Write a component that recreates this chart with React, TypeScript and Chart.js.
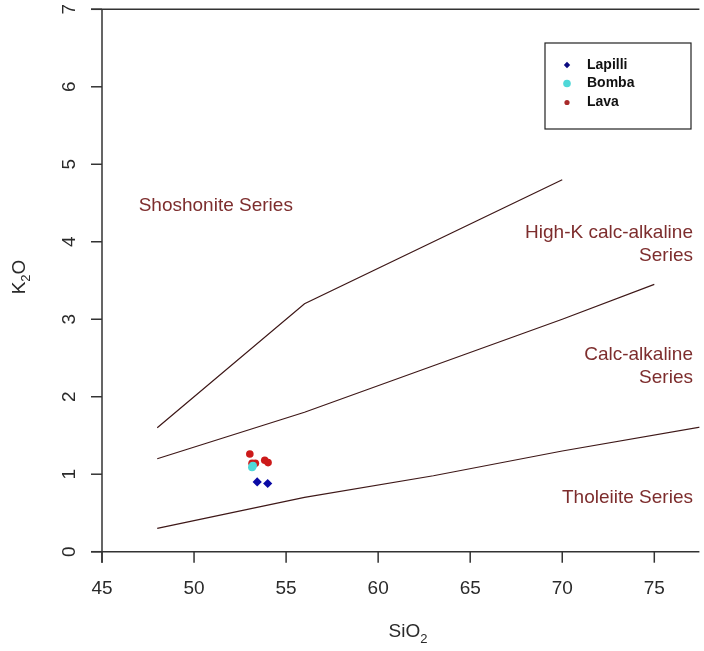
import React, { useEffect, useRef } from "react";
import { Chart, registerables } from "chart.js";

Chart.register(...registerables);

// Axis ranges and ticks
const xRange = [45, 77.45];
const yRange = [0, 7];
const xTicks = [45, 50, 55, 60, 65, 70, 75];
const yTicks = [0, 1, 2, 3, 4, 5, 6, 7];

// Series boundaries (Peccerillo & Taylor style)
const shoshoniteX = [48, 56, 70];
const shoshoniteY = [1.6, 3.2, 4.8];
const highKX = [48, 56, 63, 70, 75];
const highKY = [1.2, 1.8, 2.4, 3.0, 3.45];
const tholeiiteX = [48, 56, 63, 70, 78];
const tholeiiteY = [0.3, 0.7, 0.98, 1.3, 1.63];

// Samples
const lapilliSiO2 = [53.43, 54.0];
const lapilliK2O = [0.9, 0.88];
const bombaSiO2 = [53.15, 53.2];
const bombaK2O = [1.09, 1.11];
const lavaSiO2 = [53.03, 53.15, 53.33, 53.84, 54.02];
const lavaK2O = [1.26, 1.14, 1.14, 1.18, 1.15];

// Region labels
const regionLabels = [
  { lines: ["Shoshonite Series"], x: 51.18, y: 4.47, align: "center" },
  { lines: ["High-K calc-alkaline", "Series"], x: 77.1, y: 4.12, align: "right" },
  { lines: ["Calc-alkaline", "Series"], x: 77.1, y: 2.54, align: "right" },
  { lines: ["Tholeiite Series"], x: 77.1, y: 0.69, align: "right" },
];

const zip = (xs: number[], ys: number[]) => xs.map((x, i) => ({ x, y: ys[i] }));

const LINE_COLOR = "#3e1818";
const TEXT_RED = "#7d2d2d";
const AXIS = "#333333";
const FONT = "'Liberation Sans', Arial, sans-serif";

const rPlugin = {
  id: "rStyle",
  afterDraw(chart: any) {
    const ctx = chart.ctx as CanvasRenderingContext2D;
    const xs = chart.scales.x;
    const ys = chart.scales.y;
    const left = chart.chartArea.left;
    const right = chart.chartArea.right;
    const top = chart.chartArea.top;
    const bottom = chart.chartArea.bottom;
    const tick = 11;
    ctx.save();
    ctx.strokeStyle = AXIS;
    ctx.lineWidth = 1.5;
    // axes
    ctx.beginPath();
    ctx.moveTo(left, top);
    ctx.lineTo(left, bottom + tick);
    ctx.moveTo(left - tick, bottom);
    ctx.lineTo(right, bottom);
    ctx.moveTo(left - tick, top);
    ctx.lineTo(right, top);
    ctx.stroke();
    // x ticks
    ctx.fillStyle = "#2a2a2a";
    ctx.font = `19px ${FONT}`;
    ctx.textAlign = "center";
    ctx.textBaseline = "middle";
    xTicks.forEach((v) => {
      const px = xs.getPixelForValue(v);
      ctx.beginPath();
      ctx.moveTo(px, bottom);
      ctx.lineTo(px, bottom + tick);
      ctx.stroke();
      ctx.fillText(String(v), px, 589);
    });
    // y ticks
    yTicks.forEach((v) => {
      const py = ys.getPixelForValue(v);
      ctx.beginPath();
      ctx.moveTo(left - tick, py);
      ctx.lineTo(left, py);
      ctx.stroke();
      ctx.save();
      ctx.translate(70, py);
      ctx.rotate(-Math.PI / 2);
      ctx.fillText(String(v), 0, 0);
      ctx.restore();
    });
    // x title SiO2
    {
      const big = `19px ${FONT}`;
      const small = `13px ${FONT}`;
      ctx.font = big;
      const w1 = ctx.measureText("SiO").width;
      ctx.font = small;
      const w2 = ctx.measureText("2").width;
      const cx = 408;
      const sx = cx - (w1 + w2) / 2;
      ctx.textAlign = "left";
      ctx.font = big;
      ctx.fillText("SiO", sx, 632);
      ctx.font = small;
      ctx.fillText("2", sx + w1, 639);
    }
    // y title K2O
    {
      const big = `19px ${FONT}`;
      const small = `13px ${FONT}`;
      ctx.save();
      ctx.translate(20, 277);
      ctx.rotate(-Math.PI / 2);
      ctx.font = big;
      const wK = ctx.measureText("K").width;
      const wO = ctx.measureText("O").width;
      ctx.font = small;
      const w2 = ctx.measureText("2").width;
      const sx = -(wK + w2 + wO) / 2;
      ctx.textAlign = "left";
      ctx.font = big;
      ctx.fillText("K", sx, 0);
      ctx.font = small;
      ctx.fillText("2", sx + wK, 6);
      ctx.font = big;
      ctx.fillText("O", sx + wK + w2, 0);
      ctx.restore();
    }
    // region labels
    ctx.fillStyle = TEXT_RED;
    ctx.font = `19px ${FONT}`;
    regionLabels.forEach((r) => {
      const px = xs.getPixelForValue(r.x);
      const py = ys.getPixelForValue(r.y);
      ctx.textAlign = r.align as CanvasTextAlign;
      r.lines.forEach((ln, i) => ctx.fillText(ln, px, py + i * 23));
    });
    // legend
    ctx.strokeStyle = "#222";
    ctx.lineWidth = 1.2;
    ctx.strokeRect(545, 43, 146, 86);
    const items = chart.data.datasets.filter((d: any) => d.legend);
    const rowsY = [65, 83.5, 102.5];
    items.forEach((d: any, i: number) => {
      const y = rowsY[i];
      const x = 567;
      ctx.fillStyle = d.legendColor;
      ctx.beginPath();
      if (d.pointStyle === "rectRot") {
        const s = 3.2;
        ctx.moveTo(x, y - s);
        ctx.lineTo(x + s, y);
        ctx.lineTo(x, y + s);
        ctx.lineTo(x - s, y);
        ctx.closePath();
      } else {
        ctx.arc(x, y, d.legendRadius, 0, Math.PI * 2);
      }
      ctx.fill();
      ctx.fillStyle = "#111";
      ctx.font = `bold 14px ${FONT}`;
      ctx.textAlign = "left";
      ctx.fillText(d.label, 587, y);
    });
    ctx.restore();
  },
};

export default function App() {
  const ref = useRef<HTMLCanvasElement | null>(null);
  useEffect(() => {
    if (!ref.current) return;
    const lineDs = (label: string, xsArr: number[], ysArr: number[]) => ({
      label,
      data: zip(xsArr, ysArr),
      showLine: true,
      borderColor: LINE_COLOR,
      borderWidth: 1.2,
      pointRadius: 0,
      fill: false,
      tension: 0,
    });
    const chart = new Chart(ref.current, {
      type: "scatter",
      data: {
        datasets: [
          lineDs("shoshonite", shoshoniteX, shoshoniteY),
          lineDs("highK", highKX, highKY),
          lineDs("tholeiite", tholeiiteX, tholeiiteY),
          {
            label: "Lapilli",
            data: zip(lapilliSiO2, lapilliK2O),
            pointStyle: "rectRot",
            pointRadius: 4.6,
            backgroundColor: "#0a0aa5",
            borderColor: "#0a0aa5",
            borderWidth: 0,
            legend: true,
            legendColor: "#0a0a80",
            legendRadius: 3,
          } as any,
          {
            label: "Bomba",
            data: zip(bombaSiO2, bombaK2O),
            pointStyle: "circle",
            pointRadius: 4,
            backgroundColor: "#4fd8d8",
            borderColor: "#4fd8d8",
            borderWidth: 0,
            legend: true,
            legendColor: "#4fd8d8",
            legendRadius: 3.8,
          } as any,
          {
            label: "Lava",
            data: zip(lavaSiO2, lavaK2O),
            pointStyle: "circle",
            pointRadius: 3.8,
            backgroundColor: "#cc1a1a",
            borderColor: "#cc1a1a",
            borderWidth: 0,
            legend: true,
            legendColor: "#a82a2a",
            legendRadius: 2.6,
          } as any,
        ],
      },
      options: {
        animation: false,
        responsive: false,
        layout: { padding: { left: 102, right: 0, top: 9.3, bottom: 99.3 } },
        plugins: { legend: { display: false }, tooltip: { enabled: false } },
        scales: {
          x: { type: "linear", display: false, min: xRange[0], max: xRange[1] },
          y: { type: "linear", display: false, min: yRange[0], max: yRange[1] },
        },
      },
      plugins: [rPlugin],
    } as any);
    return () => chart.destroy();
  }, []);
  return (
    <div style={{ position: "fixed", left: 0, top: 0, width: 704, height: 651, background: "#fff" }}>
      <canvas ref={ref} width={704} height={651} style={{ width: 704, height: 651, display: "block" }} />
    </div>
  );
}
